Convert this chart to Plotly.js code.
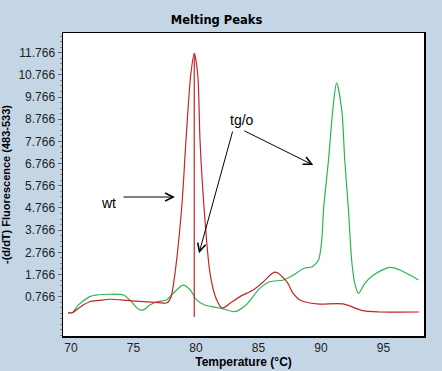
<!DOCTYPE html>
<html>
<head>
<meta charset="utf-8">
<script src="https://cdn.plot.ly/plotly-3.0.1.min.js"></script>
<style>html,body{margin:0;padding:0;background:#C4D5E6;}#chart{width:442px;height:371px;}</style>
</head>
<body>
<div id="chart"></div>
<script>
// Temperature (°C) and -(d/dT) fluorescence for each sample
const wtTemp = [69.76, 70.1, 70.5, 71.0, 71.5, 72.3, 73.1, 74.5, 75.8, 77.0, 77.7, 78.0, 78.32, 78.86, 79.2, 79.58, 79.86, 80.14, 80.32, 80.64, 81.12, 81.6, 82.1, 82.8, 83.52, 84.56, 85.28, 86.32, 87.26, 87.76, 88.32, 89.66, 91.76, 93.36, 94.72, 97.84];
const wtValue = [0.04, 0.04, 0.2, 0.4, 0.54, 0.6, 0.65, 0.6, 0.54, 0.5, 0.49, 0.75, 1.83, 4.81, 7.83, 10.77, 11.74, 10.77, 7.83, 4.81, 1.83, 0.7, 0.25, 0.5, 0.77, 1.07, 1.38, 1.87, 1.44, 0.93, 0.62, 0.44, 0.44, 0.135, 0.076, 0.076];
const spikeTemp = [79.86, 79.86];
const spikeValue = [11.74, -0.15];
const tgTemp = [69.76, 70.1, 70.6, 71.5, 72.0, 74.2, 74.7, 75.4, 75.8, 76.3, 76.9, 77.65, 78.05, 78.96, 79.5, 80.05, 80.7, 82.06, 83.1, 84.0, 85.1, 85.9, 87.0, 87.8, 88.6, 89.3, 89.8, 90.06, 90.2, 90.6, 91.0, 91.25, 91.66, 91.9, 92.2, 92.45, 92.7, 93.0, 93.5, 94.2, 95.5, 96.3, 97.1, 97.8];
const tgValue = [0.05, 0.05, 0.4, 0.77, 0.84, 0.84, 0.62, 0.2, 0.17, 0.39, 0.54, 0.62, 0.84, 1.29, 1.1, 0.62, 0.39, 0.24, 0.09, 0.39, 1.14, 1.44, 1.52, 1.74, 2.04, 2.12, 2.42, 3.32, 4.67, 6.93, 9.5, 10.41, 9.18, 6.93, 4.67, 2.42, 1.37, 0.92, 1.37, 1.74, 2.09, 1.97, 1.74, 1.52];
const xTicks = [70, 75, 80, 85, 90, 95];
const yTicks = [0.766, 1.766, 2.766, 3.766, 4.766, 5.766, 6.766, 7.766, 8.766, 9.766, 10.766, 11.766];

const red = '#C02828';
const green = '#2EB452';

const traces = [
  {x: tgTemp, y: tgValue, type: 'scatter', mode: 'lines', line: {color: green, width: 1.2, shape: 'spline', smoothing: 0.8}, name: 'tg/o'},
  {x: wtTemp, y: wtValue, type: 'scatter', mode: 'lines', line: {color: red, width: 1.2, shape: 'spline', smoothing: 0.8}, name: 'wt'},
  {x: spikeTemp, y: spikeValue, type: 'scatter', mode: 'lines', line: {color: red, width: 1.2}, name: 'wt spike'}
];

const arrowBase = {showarrow: true, arrowhead: 5, arrowsize: 1.6, arrowwidth: 1, arrowcolor: '#000', text: '', xref: 'x', yref: 'y', axref: 'x', ayref: 'y'};

const layout = {
  width: 442, height: 371,
  paper_bgcolor: '#C4D5E6',
  plot_bgcolor: '#FFFFFF',
  showlegend: false,
  margin: {l: 63, r: 18, t: 33, b: 35},
  title: {text: 'Melting Peaks', font: {family: 'DejaVu Sans', size: 11.5, color: '#000', weight: 'bold'}, x: 0.49, xanchor: 'center', y: 0.945, yanchor: 'middle'},
  xaxis: {
    range: [69.36, 98.24], tickvals: xTicks, ticktext: xTicks.map(String),
    showgrid: false, zeroline: false, showline: true, linecolor: '#000', linewidth: 1.5, mirror: true,
    ticks: '',
    tickfont: {family: 'Liberation Sans, Arial', size: 12, color: '#222'},
    title: {text: 'Temperature (°C)', font: {family: 'Liberation Sans, Arial', size: 12, color: '#000', weight: 'bold'}, standoff: 2}
  },
  yaxis: {
    range: [-1.006, 12.654], tickvals: yTicks, ticktext: yTicks.map(v => v.toFixed(3)),
    showgrid: false, zeroline: false, showline: true, linecolor: '#000', linewidth: 1.5, mirror: true,
    ticks: 'outside', ticklen: 4, tickcolor: '#666',
    minor: {dtick: 0.25, tick0: 0.766, ticklen: 2, tickcolor: '#888', ticks: 'outside'},
    tickfont: {family: 'Liberation Sans, Arial', size: 12, color: '#222'},
    title: {text: '-(d/dT) Fluorescence (483-533)', font: {family: 'Liberation Sans, Arial', size: 11, color: '#000', weight: 'bold'}, standoff: 6}
  },
  annotations: [
    {x: 72.96, y: 4.99, xref: 'x', yref: 'y', text: 'wt', showarrow: false, font: {family: 'Liberation Sans, Arial', size: 14, color: '#000'}},
    {x: 83.68, y: 8.73, xref: 'x', yref: 'y', text: 'tg/o', showarrow: false, font: {family: 'Liberation Sans, Arial', size: 14, color: '#000'}},
    Object.assign({}, arrowBase, {x: 78.32, y: 5.26, ax: 74.08, ay: 5.26}),
    Object.assign({}, arrowBase, {x: 80.24, y: 2.72, ax: 82.96, ay: 8.28}),
    Object.assign({}, arrowBase, {x: 89.38, y: 6.7, ax: 83.74, ay: 8.28})
  ]
};

Plotly.newPlot('chart', traces, layout, {displayModeBar: false, staticPlot: true});
</script>
</body>
</html>
